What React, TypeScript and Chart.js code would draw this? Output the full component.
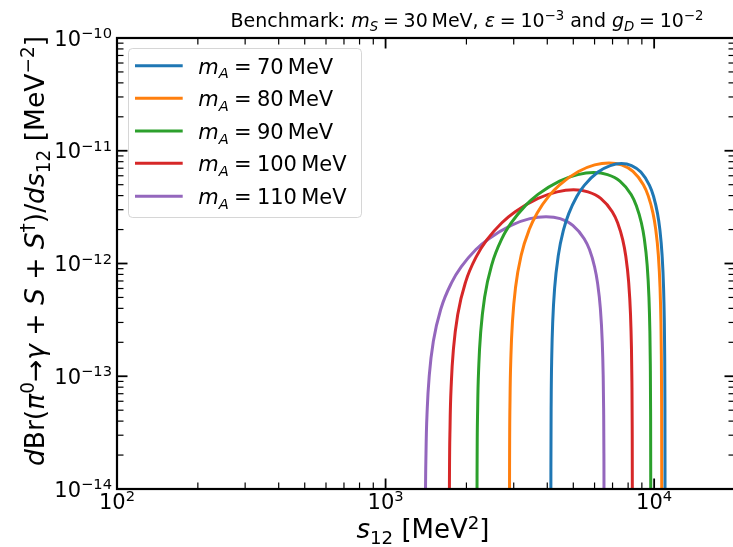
import React, { useEffect, useRef } from "react";
import { Chart, registerables } from "chart.js";

Chart.register(...registerables);

// ---------------- data ----------------
const massLabels = ["70", "80", "90", "100", "110"];

const s12_mA70 = [4123.7, 4126.4, 4136.7, 4157.3, 4191.6, 4260.1, 4397.3, 4603.0, 4808.7, 5151.6, 5494.4, 6180.1, 6865.8, 7551.5, 8237.2, 8922.9, 9608.6, 9951.5, 10294.3, 10500.0, 10705.7, 10842.9, 10911.4, 10945.7, 10966.3, 10976.6, 10979.3];
const dBr_mA70 = [3.08e-15, 1.54e-14, 6.15e-14, 1.53e-13, 3.05e-13, 6.04e-13, 1.18e-12, 2.01e-12, 2.77e-12, 3.93e-12, 4.93e-12, 6.47e-12, 7.39e-12, 7.7e-12, 7.39e-12, 6.47e-12, 4.93e-12, 3.93e-12, 2.77e-12, 2.01e-12, 1.18e-12, 6.04e-13, 3.05e-13, 1.53e-13, 6.15e-14, 1.54e-14, 3.08e-15];

const s12_mA80 = [2891.8, 2894.9, 2906.6, 2929.9, 2968.8, 3046.7, 3202.3, 3435.8, 3669.3, 4058.5, 4447.6, 5225.9, 6004.2, 6782.5, 7560.8, 8339.1, 9117.4, 9506.6, 9895.7, 10129.2, 10362.7, 10518.3, 10596.2, 10635.1, 10658.4, 10670.1, 10673.2];
const dBr_mA80 = [3.12e-15, 1.56e-14, 6.23e-14, 1.55e-13, 3.09e-13, 6.12e-13, 1.2e-12, 2.03e-12, 2.81e-12, 3.98e-12, 4.99e-12, 6.55e-12, 7.49e-12, 7.8e-12, 7.49e-12, 6.55e-12, 4.99e-12, 3.98e-12, 2.81e-12, 2.03e-12, 1.2e-12, 6.12e-13, 3.09e-13, 1.55e-13, 6.23e-14, 1.56e-14, 3.12e-15];

const s12_mA90 = [2187.8, 2190.8, 2202.1, 2224.6, 2262.3, 2337.5, 2488.1, 2713.9, 2939.7, 3316.1, 3692.4, 4445.1, 5197.8, 5950.5, 6703.2, 7455.9, 8208.6, 8585.0, 8961.3, 9187.1, 9412.9, 9563.5, 9638.7, 9676.4, 9698.9, 9710.2, 9713.2];
const dBr_mA90 = [2.56e-15, 1.28e-14, 5.11e-14, 1.27e-13, 2.53e-13, 5.02e-13, 9.83e-13, 1.67e-12, 2.3e-12, 3.26e-12, 4.1e-12, 5.38e-12, 6.14e-12, 6.4e-12, 6.14e-12, 5.38e-12, 4.1e-12, 3.26e-12, 2.3e-12, 1.67e-12, 9.83e-13, 5.02e-13, 2.53e-13, 1.27e-13, 5.11e-14, 1.28e-14, 2.56e-15];

const s12_mA100 = [1725.7, 1728.3, 1738.1, 1757.9, 1790.7, 1856.4, 1987.9, 2185.0, 2382.2, 2710.8, 3039.4, 3696.6, 4353.8, 5011.0, 5668.2, 6325.4, 6982.6, 7311.2, 7639.8, 7837.0, 8034.1, 8165.6, 8231.3, 8264.1, 8283.9, 8293.7, 8296.3];
const dBr_mA100 = [1.8e-15, 9.0e-15, 3.59e-14, 8.96e-14, 1.78e-13, 3.53e-13, 6.91e-13, 1.17e-12, 1.62e-12, 2.3e-12, 2.88e-12, 3.78e-12, 4.32e-12, 4.5e-12, 4.32e-12, 3.78e-12, 2.88e-12, 2.3e-12, 1.62e-12, 1.17e-12, 6.91e-13, 3.53e-13, 1.78e-13, 8.96e-14, 3.59e-14, 9.0e-15, 1.8e-15];

const s12_mA110 = [1404.5, 1406.6, 1414.2, 1429.5, 1455.1, 1506.1, 1608.2, 1761.4, 1914.6, 2169.9, 2425.2, 2935.8, 3446.4, 3957.0, 4467.6, 4978.2, 5488.8, 5744.1, 5999.4, 6152.6, 6305.8, 6407.9, 6458.9, 6484.5, 6499.8, 6507.4, 6509.5];
const dBr_mA110 = [1.04e-15, 5.2e-15, 2.08e-14, 5.17e-14, 1.03e-13, 2.04e-13, 3.99e-13, 6.77e-13, 9.36e-13, 1.33e-12, 1.66e-12, 2.18e-12, 2.5e-12, 2.6e-12, 2.5e-12, 2.18e-12, 1.66e-12, 1.33e-12, 9.36e-13, 6.77e-13, 3.99e-13, 2.04e-13, 1.03e-13, 5.17e-14, 2.08e-14, 5.2e-15, 1.04e-15];

const xMajorTicks = [1e2, 1e3, 1e4];
const xTickExponents = ["2", "3", "4"];
const yMajorTicks = [1e-10, 1e-11, 1e-12, 1e-13, 1e-14];
const yTickExponents = ["\u221210", "\u221211", "\u221212", "\u221213", "\u221214"];

const X_MIN = 100;
const X_MAX = 20000;
const Y_MIN = 1e-14;
const Y_MAX = 1e-10;

// ---------------- styles ----------------
const lineColors = ["#1f77b4", "#ff7f0e", "#2ca02c", "#d62728", "#9467bd"];
const FONT = '"DejaVu Sans"';
const CANVAS_W = 745;
const CANVAS_H = 547;
const AREA = { left: 117, top: 38, right: 735, bottom: 489 };
const SP = "\u2005"; // narrow math space around relations

type Seg = { t: string; it?: boolean; sc?: "sub" | "sup" };

function fontFor(size: number, seg: Seg) {
  const fs = seg.sc ? size * 0.7 : size;
  return `${seg.it ? "italic " : ""}${fs}px ${FONT}`;
}
function richWidth(ctx: CanvasRenderingContext2D, segs: Seg[], size: number) {
  let w = 0;
  for (const s of segs) {
    ctx.font = fontFor(size, s);
    w += ctx.measureText(s.t).width;
  }
  return w;
}
function drawRich(
  ctx: CanvasRenderingContext2D,
  segs: Seg[],
  size: number,
  x: number,
  y: number,
  align: "left" | "center" | "right"
) {
  const w = richWidth(ctx, segs, size);
  let cx = align === "center" ? x - w / 2 : align === "right" ? x - w : x;
  ctx.textAlign = "left";
  ctx.textBaseline = "alphabetic";
  for (const s of segs) {
    ctx.font = fontFor(size, s);
    const dy = s.sc === "sup" ? -0.36 * size : s.sc === "sub" ? 0.22 * size : 0;
    ctx.fillText(s.t, cx, y + dy);
    cx += ctx.measureText(s.t).width;
  }
}

const decorPlugin = {
  id: "decor",
  afterDraw(chart: any) {
    const ctx: CanvasRenderingContext2D = chart.ctx;
    const { left, right, top, bottom } = chart.chartArea;
    const xs = chart.scales.x;
    const ys = chart.scales.y;
    ctx.save();
    ctx.strokeStyle = "#000";
    ctx.fillStyle = "#000";

    const seg = (x1: number, y1: number, x2: number, y2: number, w: number) => {
      ctx.lineWidth = w;
      ctx.beginPath();
      ctx.moveTo(x1, y1);
      ctx.lineTo(x2, y2);
      ctx.stroke();
    };

    // x ticks (bottom and top, inward)
    for (let e = 2; e <= 4; e++) {
      for (let m = 1; m <= 9; m++) {
        const v = m * Math.pow(10, e);
        if (v < X_MIN || v > X_MAX) continue;
        const px = xs.getPixelForValue(v);
        const major = m === 1;
        const len = major ? 10.5 : 6.5;
        const w = major ? 1.8 : 1.2;
        seg(px, bottom, px, bottom - len, w);
        seg(px, top, px, top + len, w);
      }
    }
    // y ticks (left and right, inward)
    for (let e = -14; e <= -10; e++) {
      for (let m = 1; m <= 9; m++) {
        const v = m * Math.pow(10, e);
        if (v < Y_MIN * 0.999 || v > Y_MAX * 1.001) continue;
        const py = ys.getPixelForValue(v);
        const major = m === 1;
        const len = major ? 10.5 : 6.5;
        const w = major ? 1.8 : 1.2;
        seg(left, py, left + len, py, w);
        seg(right, py, right - len, py, w);
      }
    }
    // spines
    ctx.lineWidth = 2.2;
    ctx.strokeRect(left, top, right - left, bottom - top);

    // tick labels
    const TICK = 21;
    xMajorTicks.forEach((v, i) => {
      const px = xs.getPixelForValue(v);
      drawRich(ctx, [{ t: "10" }, { t: xTickExponents[i], sc: "sup" }], TICK, px, bottom + 20, "center");
    });
    yMajorTicks.forEach((v, i) => {
      const py = ys.getPixelForValue(v);
      drawRich(ctx, [{ t: "10" }, { t: yTickExponents[i], sc: "sup" }], TICK, left - 5, py + 7.6, "right");
    });

    // title
    drawRich(
      ctx,
      [
        { t: "Benchmark: " },
        { t: "m", it: true },
        { t: "S", it: true, sc: "sub" },
        { t: `${SP}=${SP}30\u2009MeV, ` },
        { t: "\u03b5", it: true },
        { t: `${SP}=${SP}10` },
        { t: "\u22123", sc: "sup" },
        { t: " and " },
        { t: "g", it: true },
        { t: "D", it: true, sc: "sub" },
        { t: `${SP}=${SP}10` },
        { t: "\u22122", sc: "sup" },
      ],
      19,
      467,
      27,
      "center"
    );

    // x axis label
    drawRich(
      ctx,
      [
        { t: "s", it: true },
        { t: "12", sc: "sub" },
        { t: " [MeV" },
        { t: "2", sc: "sup" },
        { t: "]" },
      ],
      26,
      423,
      538,
      "center"
    );

    // y axis label (rotated)
    ctx.save();
    ctx.translate(44, 251);
    ctx.rotate(-Math.PI / 2);
    drawRich(
      ctx,
      [
        { t: "d", it: true },
        { t: "Br(" },
        { t: "\u03c0", it: true },
        { t: "0", sc: "sup" },
        { t: "\u2192" },
        { t: "\u03b3", it: true },
        { t: " + " },
        { t: "S", it: true },
        { t: " + " },
        { t: "S", it: true },
        { t: "\u2020", sc: "sup" },
        { t: ")/" },
        { t: "d", it: true },
        { t: "s", it: true },
        { t: "12", sc: "sub" },
        { t: " [MeV" },
        { t: "\u22122", sc: "sup" },
        { t: "]" },
      ],
      26.5,
      0,
      0,
      "center"
    );
    ctx.restore();

    // legend
    const LX = 128.5, LY = 48.5, LW = 233, LH = 169;
    ctx.beginPath();
    (ctx as any).roundRect(LX, LY, LW, LH, 4);
    ctx.fillStyle = "rgba(255,255,255,0.8)";
    ctx.fill();
    ctx.strokeStyle = "rgba(204,204,204,0.8)";
    ctx.lineWidth = 1;
    ctx.stroke();
    const rows = [65.7, 98.3, 131, 163.3, 196.3];
    massLabels.forEach((mlab, i) => {
      const ry = rows[i];
      ctx.strokeStyle = lineColors[i];
      ctx.lineWidth = 3;
      ctx.beginPath();
      ctx.moveTo(135, ry);
      ctx.lineTo(182.7, ry);
      ctx.stroke();
      ctx.fillStyle = "#000";
      drawRich(
        ctx,
        [
          { t: "m", it: true },
          { t: "A", it: true, sc: "sub" },
          { t: `${SP}=${SP}${mlab}\u2009MeV` },
        ],
        21,
        198.3,
        ry + 8,
        "left"
      );
    });

    ctx.restore();
  },
};

const seriesX = [s12_mA70, s12_mA80, s12_mA90, s12_mA100, s12_mA110];
const seriesY = [dBr_mA70, dBr_mA80, dBr_mA90, dBr_mA100, dBr_mA110];

export default function App() {
  const ref = useRef<HTMLCanvasElement>(null);
  useEffect(() => {
    const canvas = ref.current;
    if (!canvas) return;
    const chart = new Chart(canvas, {
      type: "line",
      data: {
        datasets: massLabels.map((m, i) => ({
          label: `m_A = ${m} MeV`,
          data: seriesX[i].map((x, j) => ({ x, y: seriesY[i][j] })),
          borderColor: lineColors[i],
          backgroundColor: lineColors[i],
          borderWidth: 3,
          pointRadius: 0,
          fill: false,
          cubicInterpolationMode: "monotone" as const,
          clip: 0,
        })),
      },
      options: {
        responsive: false,
        maintainAspectRatio: false,
        animation: false,
        devicePixelRatio: 1,
        layout: {
          padding: {
            left: AREA.left,
            top: AREA.top,
            right: CANVAS_W - AREA.right,
            bottom: CANVAS_H - AREA.bottom,
          },
        },
        scales: {
          x: { type: "logarithmic", min: X_MIN, max: X_MAX, display: false },
          y: { type: "logarithmic", min: Y_MIN, max: Y_MAX, display: false },
        },
        plugins: {
          legend: { display: false },
          title: { display: false },
          tooltip: { enabled: false },
        },
      },
      plugins: [decorPlugin],
    });
    return () => chart.destroy();
  }, []);
  return (
    <div
      style={{
        position: "fixed",
        left: 0,
        top: 0,
        width: 733,
        height: 547,
        overflow: "hidden",
        background: "#fff",
      }}
    >
      <canvas
        ref={ref}
        width={CANVAS_W}
        height={CANVAS_H}
        style={{ display: "block", width: CANVAS_W, height: CANVAS_H }}
      />
    </div>
  );
}
